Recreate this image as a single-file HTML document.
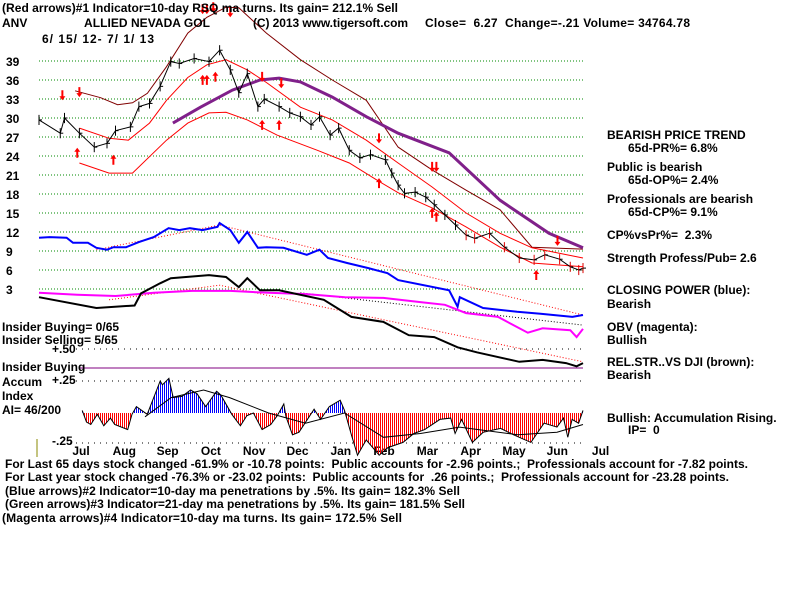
<!DOCTYPE html>
<html><head><meta charset="utf-8"><style>
html,body{margin:0;padding:0;background:#fff}
svg{display:block}
text{font-family:"Liberation Sans",sans-serif;font-weight:bold;font-size:12px;fill:#000}
</style></head><body>
<svg id="c" width="800" height="600" viewBox="0 0 800 600">
<defs>
<pattern id="redStripe" width="2" height="4" patternUnits="userSpaceOnUse"><rect x="0" y="0" width="1" height="4" fill="#f00"/></pattern>
<pattern id="blueStripe" width="2" height="4" patternUnits="userSpaceOnUse"><rect x="0" y="0" width="1" height="4" fill="#00f"/></pattern>
<clipPath id="aboveBase"><rect x="0" y="0" width="800" height="413"/></clipPath>
<clipPath id="belowBase"><rect x="0" y="413" width="800" height="200"/></clipPath>
</defs>
<g id="grid"></g>
<g id="marks"></g>
<g>
<text x="2" y="12" textLength="396">(Red arrows)#1 Indicator=10-day RSQ ma turns. Its gain= 212.1% Sell</text>
<text x="2" y="27">ANV</text>
<text x="84" y="27" textLength="126">ALLIED NEVADA GOL</text>
<text x="253" y="27" textLength="155">(C) 2013 www.tigersoft.com</text>
<text x="425" y="27" textLength="265" xml:space="preserve">Close=  6.27  Change=-.21 Volume= 34764.78</text>
<text x="42" y="43" textLength="112" xml:space="preserve">6/ 15/ 12- 7/ 1/ 13</text>
</g>
<g>
<text x="607" y="139">BEARISH PRICE TREND</text>
<text x="628" y="152">65d-PR%= 6.8%</text>
<text x="607" y="171">Public is bearish</text>
<text x="628" y="184">65d-OP%= 2.4%</text>
<text x="607" y="203">Professionals are bearish</text>
<text x="628" y="216">65d-CP%= 9.1%</text>
<text x="607" y="239" xml:space="preserve">CP%vsPr%=  2.3%</text>
<text x="607" y="262">Strength Profess/Pub= 2.6</text>
<text x="607" y="294">CLOSING POWER (blue):</text>
<text x="607" y="308">Bearish</text>
<text x="607" y="331">OBV (magenta):</text>
<text x="607" y="344">Bullish</text>
<text x="607" y="366">REL.STR..VS DJI (brown):</text>
<text x="607" y="379">Bearish</text>
<text x="607" y="422">Bullish: Accumulation Rising.</text>
<text x="628" y="434" xml:space="preserve">IP=  0</text>
</g>
<g>
<text x="2" y="331">Insider Buying= 0/65</text>
<text x="2" y="344">Insider Selling= 5/65</text>
<text x="52" y="353">+.50</text>
<text x="2" y="371">Insider Buying</text>
<text x="2" y="386">Accum</text>
<text x="52" y="384">+.25</text>
<text x="2" y="400">Index</text>
<text x="2" y="414">AI= 46/200</text>
<text x="52" y="445">-.25</text>
</g>
<g>
<text x="5" y="468" textLength="743" xml:space="preserve">For Last 65 days stock changed -61.9% or -10.78 points:  Public accounts for -2.96 points.;  Professionals account for -7.82 points.</text>
<text x="5" y="481" textLength="724" xml:space="preserve">For Last year stock changed -76.3% or -23.02 points:  Public accounts for  .26 points.;  Professionals account for -23.28 points.</text>
<text x="5" y="495" textLength="455">(Blue arrows)#2 Indicator=10-day ma penetrations by .5%. Its gain= 182.3% Sell</text>
<text x="5" y="508" textLength="460">(Green arrows)#3 Indicator=21-day ma penetrations by .5%. Its gain= 181.5% Sell</text>
<text x="2" y="522" textLength="400">(Magenta arrows)#4 Indicator=10-day ma turns. Its gain= 172.5% Sell</text>
</g>
</svg>
<script>
const priceTicks=[39,36,33,30,27,24,21,18,15,12,9,6,3];
const months=["Jul","Aug","Sep","Oct","Nov","Dec","Jan","Feb","Mar","Apr","May","Jun","Jul"];
// price: trading-day index and close
const priceDay=[0,10,12,19,26,32,36,43,47,52,57,62,66,73,80,85,90,94,98,103,106,113,118,123,128,132,137,141,146,151,156,163,166,169,172,177,182,186,191,196,201,205,212,219,226,233,238,245,250,254,256];
const priceClose=[29.7,27.6,30,27.6,25.4,26,28,28.6,31.8,32.3,35,38.9,38.6,39.4,38.9,40.7,37.6,34,37,31.8,33,31.8,30.8,30.2,28.9,30.2,27.3,28.4,24.9,23.7,24.2,23.4,21.3,19.4,18.1,18.3,17.5,16.3,14.7,13.1,11.5,11,11.8,9.6,7.9,7.6,8.4,7.7,6.5,6,6.3];
const upperDay=[19,33,42,52,60,70,79,88,98,107,123,138,154,169,185,201,217,232,256];
const upperVal=[28.4,26.8,26.5,29.2,32.8,36.4,38.4,39.2,37.6,35.6,31.7,29.7,26.5,22.9,19.1,15,11.8,9.5,7.9];
const lowerDay=[19,33,44,60,70,80,88,98,112,131,146,159,169,185,201,217,232,256];
const lowerVal=[22.9,21.3,21.3,26.5,29.2,30.8,30.9,29.7,27.3,24.9,22.9,20.2,18.2,15.8,12.8,9.6,7.1,6.5];
const outerDay=[17,29,37,44,51,60,70,79,88,94,107,123,138,154,169,185,201,217,232,256];
const outerVal=[34.3,33.2,32.1,32.4,33.9,38.1,43.4,45.9,47.5,47.4,43.4,39.2,36,32.8,25.4,21.8,18.6,15.5,9.6,9.3];
const maDay=[63,76,91,104,113,123,138,154,169,193,217,240,256];
const maVal=[29.2,31.7,34.4,36,36.3,35.7,33.3,30.2,27.6,24.5,17,11.8,9.5];
const cpDay=[0,5,13,16,23,27,32,35,41,47,54,61,66,71,77,84,85,90,94,98,103,107,115,126,132,136,145,155,164,169,193,197,198,209,225,236,251,256];
const cpVal=[11.1,11.2,11.1,10.3,10.3,9.5,9.2,9.6,9.6,10.4,11.2,12.6,12.3,12.6,12.3,12.8,13.4,12.3,10.3,12,9.5,9.6,9.5,8.4,9.2,7.9,7.1,6.3,5.5,4.4,2.8,0.2,1.7,0,-0.6,-0.9,-1.4,-1.1];
const obvDay=[0,18,36,54,72,90,108,126,144,162,180,191,201,216,230,237,250,253,256];
const obvVal=[2.4,2.1,1.9,2.4,2.7,2.7,2.4,2.2,1.7,1.6,0.9,0.5,-0.8,-1.4,-3.9,-3.2,-3.5,-4.6,-3.3];
const rsDay=[0,27,45,48,57,62,80,88,94,98,104,113,134,147,162,174,186,197,206,226,237,248,253,256];
const rsVal=[1.7,0,0.4,2.3,3.9,4.7,5.2,4.9,3.3,4.7,2.8,2.8,1.3,-1.4,-2.2,-4.3,-4.6,-6.2,-7,-8.5,-8.2,-8.7,-9.2,-8.7];
// accumulation index
const accDay=[1,3,5,8,11,14,16,22,24,26,31,37,38,41,43,47,51,54,58,63,65,70,74,77,80,84,88,91,94,95,98,101,108,111,115,120,122,125,128,132,138,142,149,154,159,166,171,173,176,181,186,194,200,208,214,220,223,225,227,230,232];
const accVal=[0.02,-0.07,-0.09,-0.01,-0.1,-0.04,-0.09,-0.13,-0.01,0.05,-0.01,0.25,0.22,0.27,0.12,0.13,0.18,0.15,0.05,0.17,0.14,-0.01,-0.1,-0.02,0,-0.13,-0.09,-0.02,0.07,-0.03,-0.17,-0.15,0.03,-0.05,0.05,0.1,0.02,-0.16,-0.33,-0.21,-0.33,-0.27,-0.23,-0.16,-0.13,-0.05,-0.04,-0.16,-0.05,-0.23,-0.15,-0.12,-0.17,-0.23,-0.08,-0.11,-0.04,-0.19,-0.05,-0.08,0.02];
const accMaDay=[30,42,57,69,87,104,122,140,157,175,202,220,232];
const accMaVal=[-0.03,0.12,0.18,0.12,0,-0.08,0,-0.19,-0.16,-0.11,-0.17,-0.15,-0.09];
const downDay=[11,19,77,79,82,90,105,114,160,185,187,244];
const downVal=[32.8,33.3,46.4,46.4,46.7,45.9,35.7,34.7,26,21.5,21.5,9.8];
const upDay=[18,35,77,79,83,105,113,160,185,187,234];
const upVal=[25.3,24.2,36.8,36.8,37.3,29.7,29.7,20.5,15.8,15.2,6];

const NS="http://www.w3.org/2000/svg";
const X0=39,X1=583,AX0=80;
const yP=v=>61+(39-v)*19/3;
const xP=d=>X0+d*2.125;
const xA=d=>AX0+d*2.168;
const yA=v=>413-v*128;
const grid=document.getElementById('grid');
const marks=document.getElementById('marks');
function el(tag,attrs,parent){const e=document.createElementNS(NS,tag);for(const k in attrs)e.setAttribute(k,attrs[k]);(parent||marks).appendChild(e);return e;}
const zip=(a,b)=>a.map((d,i)=>[d,b[i]]);
function poly(pts,fx,fy,stroke,w,dash,name){
  const e=el('polyline',{points:pts.map(p=>fx(p[0]).toFixed(1)+','+fy(p[1]).toFixed(1)).join(' '),fill:'none',stroke:stroke,'stroke-width':w});
  if(dash)e.setAttribute('stroke-dasharray',dash);
  
  
  return e;
}
priceTicks.forEach(v=>{
  const l=el('line',{x1:X0,x2:X1,y1:yP(v),y2:yP(v),stroke:'#080','stroke-width':1,'stroke-dasharray':'1,2'},grid);
  
  
  const t=el('text',{x:6,y:yP(v)+5},grid);t.textContent=v;
  
  
});
[349,381,443].forEach(y=>{
  const l=el('line',{x1:70,x2:X1,y1:y,y2:y,stroke:'#000','stroke-width':1,'stroke-dasharray':'1,5'},grid);
  
  
});
const ib=el('line',{x1:80,x2:X1,y1:368,y2:368,stroke:'#800080','stroke-width':1},grid);


const tk=el('line',{x1:37,x2:37,y1:439,y2:457,stroke:'#880','stroke-width':1},grid);


months.forEach((m,i)=>{
  const t=el('text',{x:81+i*43.3,y:455,'text-anchor':'middle','font-size':'13px'},grid);t.textContent=m;
  
  
});
poly(zip(outerDay,outerVal),xP,yP,'#800000',1,null,'outer-band');
poly(zip(upperDay,upperVal),xP,yP,'#f00',1,null,'upper-band');
poly(zip(lowerDay,lowerVal),xP,yP,'#f00',1,null,'lower-band');
poly(zip(maDay,maVal),xP,yP,'#80208a',3,null,'moving-average-line');
poly(zip(priceDay,priceClose),xP,yP,'#000',1,null,'price-line');
priceDay.forEach((d,i)=>{
  const x=xP(d),v=priceClose[i];
  const b=el('line',{x1:x,x2:x,y1:yP(v+0.8),y2:yP(v-0.8),stroke:d>200?'#d00':'#000','stroke-width':1});
  
  
  const t=el('line',{x1:x,x2:x+3,y1:yP(v),y2:yP(v),stroke:'#000','stroke-width':1});
  
  
});
function arrow(d,v,down){
  const x=xP(d),y=yP(v);
  const p=down?`${x-1},${y-10} ${x+1},${y-10} ${x+1},${y-4} ${x+3},${y-4} ${x},${y} ${x-3},${y-4} ${x-1},${y-4}`
              :`${x-1},${y+10} ${x+1},${y+10} ${x+1},${y+4} ${x+3},${y+4} ${x},${y} ${x-3},${y+4} ${x-1},${y+4}`;
  const a=el('polygon',{points:p,fill:'#f00'});
  
  
}
downDay.forEach((d,i)=>arrow(d,downVal[i],true));
upDay.forEach((d,i)=>arrow(d,upVal[i],false));
poly([[27,9.2],[85,13.1],[256,-1.1]],xP,yP,'#f00',1,'1,2','cp-trend');
poly([[123,2.4],[256,-2.7]],xP,yP,'#000',1,'1,2','obv-trend');
poly([[33,1.3],[85,3.6],[256,-8.5]],xP,yP,'#f00',1,'1,2','rs-trend');
poly(zip(obvDay,obvVal),xP,yP,'#f0f',2,null,'obv-line');
poly(zip(rsDay,rsVal),xP,yP,'#000',2,null,'relative-strength-line');
poly(zip(cpDay,cpVal),xP,yP,'#00f',2,null,'closing-power-line');
const accPts=zip(accDay,accVal);
const areaPts=[[accDay[0],0],...accPts,[accDay[accDay.length-1],0]].map(p=>xA(p[0]).toFixed(1)+','+yA(p[1]).toFixed(1)).join(' ');
const ar=el('polygon',{points:areaPts,fill:'url(#redStripe)','clip-path':'url(#belowBase)'});


const ab=el('polygon',{points:areaPts,fill:'url(#blueStripe)','clip-path':'url(#aboveBase)'});


poly(accPts,xA,yA,'#000',1,null,'accum-index-line');
poly(zip(accMaDay,accMaVal),xA,yA,'#000',1,null,'accum-ma-line');
</script>
</body></html>
